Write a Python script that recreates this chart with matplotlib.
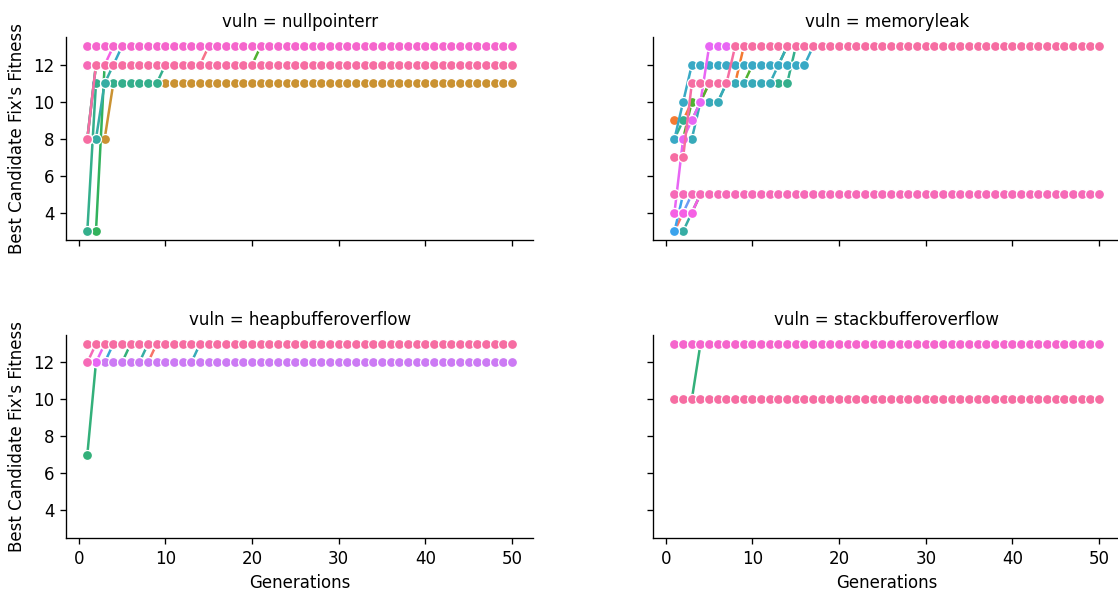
import numpy as np
import pandas as pd
import seaborn as sns
import matplotlib.pyplot as plt

N_RUNS = 30
GENERATIONS = np.arange(1, 51)
VULNS = ["nullpointerr", "memoryleak", "heapbufferoverflow", "stackbufferoverflow"]

# Best fitness of each run (seed index -> list of (generation it changed, new fitness))
nullpointerr_runs = {
    0: [(1, 12), (15, 13)],
    4: [(1, 8), (4, 11)],
    10: [(1, 8), (2, 12), (21, 13)],
    11: [(1, 3), (3, 12)],
    13: [(1, 3), (2, 11), (10, 12)],
    15: [(1, 8), (3, 11), (4, 12)],
    18: [(1, 8), (2, 12), (5, 13)],
    26: [(1, 12), (4, 13)],
    27: [(1, 13)],
    28: [(1, 12)],
    29: [(1, 8), (2, 12)],
}
memoryleak_runs = {
    1: [(1, 3), (2, 4), (4, 5)],
    2: [(1, 9), (3, 10), (5, 11), (9, 13)],
    10: [(1, 8), (3, 10), (5, 11), (10, 12), (14, 13)],
    13: [(1, 8), (2, 9), (4, 10), (7, 11), (15, 13)],
    15: [(1, 3), (3, 4), (4, 5)],
    17: [(1, 8), (4, 10), (7, 11), (13, 12), (14, 13)],
    18: [(1, 8), (2, 10), (3, 12), (17, 13)],
    20: [(1, 3), (2, 5)],
    21: [(1, 4), (3, 5)],
    25: [(1, 4), (2, 8), (3, 9), (4, 10), (5, 13)],
    26: [(1, 4), (4, 5)],
    28: [(1, 5)],
    29: [(1, 7), (3, 11), (8, 13)],
}
heapbufferoverflow_runs = {
    1: [(1, 12), (9, 13)],
    12: [(1, 7), (2, 12), (6, 13)],
    15: [(1, 12), (8, 13)],
    17: [(1, 12), (14, 13)],
    19: [(1, 12), (4, 13)],
    24: [(1, 12)],
    25: [(1, 12), (3, 13)],
    28: [(1, 12), (2, 13)],
    29: [(1, 13)],
}
stackbufferoverflow_runs = {
    12: [(1, 10), (4, 13)],
    27: [(1, 13)],
    29: [(1, 10)],
}

all_runs = [nullpointerr_runs, memoryleak_runs, heapbufferoverflow_runs, stackbufferoverflow_runs]

rows = []
for vuln, runs in zip(VULNS, all_runs):
    for seed, steps in runs.items():
        for gen in GENERATIONS:
            fit = [f for g, f in steps if g <= gen][-1]
            rows.append((vuln, f"seed{seed}", gen, fit))

df = pd.DataFrame(rows, columns=["vuln", "seed", "Generations", "Best Candidate Fix's Fitness"])
seeds = [f"seed{i}" for i in range(N_RUNS)]

g = sns.relplot(data=df, x="Generations", y="Best Candidate Fix's Fitness",
                hue="seed", hue_order=seeds, palette=sns.color_palette("husl", N_RUNS),
                col="vuln", col_order=VULNS, col_wrap=2, kind="line", marker="o",
                errorbar=None, legend=False, height=2.5, aspect=2)

g.figure.set_size_inches(1118 / 120, 595 / 120)
g.figure.subplots_adjust(left=0.0591, right=1.0021, top=0.9374, bottom=0.0958,
                         wspace=0.257, hspace=0.464)
g.figure.savefig("out.png", dpi=120)
